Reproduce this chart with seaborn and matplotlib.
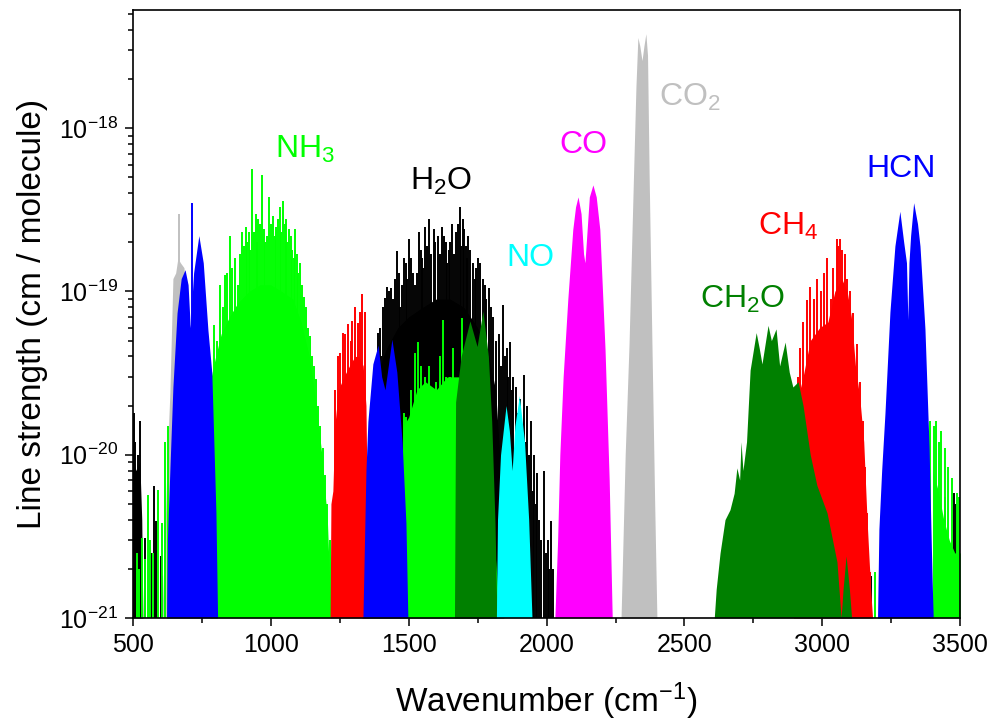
import matplotlib
matplotlib.use("Agg")
import matplotlib.pyplot as plt
import seaborn as sns
from matplotlib.ticker import FixedLocator, LogFormatterSciNotation, MultipleLocator, NullFormatter

# ── data: band envelopes (solid part) and single lines ──
# wavenumber in cm-1, line strength in cm/molecule
co2_env_wn = [605, 615, 625, 634, 645, 655, 663, 672, 685, 700, 720, 740,
              2270, 2285, 2299, 2315, 2324, 2331, 2338, 2346, 2353, 2360, 2366, 2372, 2382, 2392, 2400]
co2_env_s = [1e-21, 3e-21, 1e-20, 2.4e-20, 1.2e-19, 1.3e-19, 1.6e-19, 1.5e-19, 1.4e-19, 8e-20, 2e-20, 1e-21,
             1e-21, 1e-20, 4.8e-20, 5e-19, 1.8e-18, 3.6e-18, 3.2e-18, 2.6e-18, 3.2e-18, 3.8e-18, 2.8e-18, 5e-19, 4.8e-20, 5e-21, 1e-21]
co2_lines_wn = [667]
co2_lines_s = [3.0e-19]

h2o_env_wn = [500, 512, 525, 532, 536,
              1330, 1360, 1380, 1420, 1460, 1500, 1550, 1600, 1650, 1700, 1750, 1790, 1815, 1830, 1845]
h2o_env_s = [9e-21, 8e-21, 9e-21, 4e-21, 1e-21,
             1e-21, 1.5e-20, 3e-20, 4.5e-20, 6e-20, 7e-20, 8e-20, 9e-20, 9e-20, 8e-20, 6e-20, 4e-20, 2.5e-20, 1e-20, 1e-21]
h2o_lines_wn = [503, 508, 518, 527, 544, 565, 576, 583, 600, 606,
                1380, 1389, 1395, 1400, 1407, 1414, 1422, 1428, 1436, 1444, 1450, 1457, 1466, 1470,
                1476, 1483, 1490, 1495, 1501, 1508, 1515, 1524, 1530, 1537, 1543, 1548, 1553, 1559,
                1565, 1574, 1580, 1590, 1597, 1605, 1612, 1620, 1627, 1635, 1640, 1645, 1650, 1657,
                1663, 1670, 1677, 1686, 1690, 1697, 1700, 1706, 1710, 1715, 1722, 1733, 1740, 1745,
                1752, 1760, 1768, 1775, 1782, 1791, 1798, 1806, 1815, 1828, 1835, 1842, 1848, 1855,
                1860, 1867, 1873, 1878, 1889, 1895, 1905, 1912, 1918, 1925, 1930, 1937, 1943, 1950,
                1955, 1960, 1966, 1972, 1980, 1991, 1998, 2005, 2010, 2016, 2022,
                3177, 3420, 3445, 3478, 3483]
h2o_lines_s = [1.8e-20, 1.2e-20, 1e-20, 1.6e-20, 3.1e-21, 2.5e-21, 6.4e-21, 3.9e-21, 2.4e-21, 1.8e-21,
               3.5e-20, 5.6e-20, 6e-20, 4e-20, 8e-20, 9.1e-20, 1.07e-19, 1e-19, 1.05e-19, 9e-20, 1.2e-19, 1.77e-19, 1.3e-19, 8e-20,
               1.1e-19, 1.6e-19, 1.5e-19, 1.2e-19, 2.1e-19, 1.6e-19, 1.3e-19, 1.1e-19, 1.3e-19, 2.3e-19, 1.8e-19, 1.6e-19, 1.4e-19, 2.5e-19,
               1.9e-19, 2.8e-19, 1.7e-19, 2.4e-19, 2e-19, 2.2e-19, 1.7e-19, 2.5e-19, 2.2e-19, 2e-19, 1.5e-19, 1.8e-19, 2e-19, 2.6e-19,
               1.7e-19, 2.3e-19, 2.6e-19, 3.3e-19, 1.9e-19, 2.8e-19, 2.4e-19, 1.9e-19, 1.6e-19, 2.2e-19, 1.8e-19, 1.5e-19, 1.2e-19, 1.4e-19,
               1.6e-19, 1.5e-19, 1.2e-19, 1.1e-19, 9e-20, 1.05e-19, 8e-20, 7e-20, 5e-20, 5.5e-20, 3.5e-20, 8.3e-20, 4e-20, 4.5e-20,
               3e-20, 4.9e-20, 2.5e-20, 3e-20, 2.6e-20, 1.8e-20, 2.2e-20, 1.4e-20, 3.1e-20, 1.2e-20, 2e-20, 1e-20, 1.6e-20, 6e-21,
               1e-20, 5e-21, 7.7e-21, 4e-21, 3e-21, 8e-21, 2.5e-21, 3e-21, 2e-21, 3.9e-21, 2e-21,
               1.8e-21, 3.5e-21, 5.5e-21, 5.8e-21, 5e-21]

nh3_env_wn = [780, 784, 800, 820, 850, 880, 920, 960, 1000, 1040, 1080, 1110, 1140, 1165, 1185, 1205, 1218,
              1478, 1481, 1500, 1530, 1560, 1600, 1640, 1680, 1720, 1780, 1830,
              3398, 3401, 3420, 3440, 3460, 3480, 3500]
nh3_env_s = [1e-21, 3e-20, 4e-20, 5.5e-20, 7e-20, 8.5e-20, 1e-19, 1.1e-19, 1.1e-19, 1e-19, 9e-20, 6.5e-20, 4e-20, 2e-20, 1e-20, 4e-21, 1e-21,
             1e-21, 1.5e-20, 1.7e-20, 2.5e-20, 2.8e-20, 2.5e-20, 3e-20, 3e-20, 2.5e-20, 1.5e-20, 1e-21,
             1e-21, 8e-21, 6e-21, 4e-21, 3e-21, 2.5e-21, 2.5e-21]
nh3_lines_wn = [513, 523, 532, 545, 554, 562, 572, 591, 604, 616, 627,
                795, 805, 815, 825, 834, 842, 852, 860, 870, 881, 888, 895, 902, 910, 915, 921, 926,
                932, 938, 945, 950, 955, 961, 968, 974, 980, 986, 993, 1000, 1008, 1014, 1020, 1026,
                1033, 1038, 1044, 1050, 1055, 1060, 1066, 1072, 1078, 1083, 1088, 1095, 1100, 1106,
                1113, 1120, 1128, 1135, 1142, 1150, 1157, 1164, 1170, 1178, 1188, 1196, 1205, 1215,
                1482, 1492, 1510, 1522, 1534, 1546, 1560, 1573, 1585, 1600, 1612, 1624, 1635, 1650, 1662, 1693,
                3191, 3392, 3405, 3413, 3424, 3431, 3445, 3456, 3470, 3487, 3497]
nh3_lines_s = [2.5e-21, 2e-21, 3.1e-21, 2.3e-21, 5.7e-21, 3e-21, 2.5e-21, 6.1e-21, 3.8e-21, 1.2e-20, 1.5e-20,
               6.2e-20, 5e-20, 1.1e-19, 8e-20, 1.26e-19, 1.3e-19, 2.2e-19, 1.4e-19, 1.6e-19, 1.1e-19, 1.7e-19, 2.3e-19, 1.9e-19, 2.5e-19, 2e-19, 2.3e-19, 1.8e-19,
               5.6e-19, 2.3e-19, 3e-19, 2e-19, 2.8e-19, 2.6e-19, 5.2e-19, 2.4e-19, 2e-19, 2.2e-19, 3.8e-19, 2.6e-19, 2.9e-19, 2.2e-19, 2.5e-19, 2.8e-19,
               3.3e-19, 2.3e-19, 3.6e-19, 2.6e-19, 2.8e-19, 2e-19, 2.4e-19, 2.2e-19, 1.8e-19, 1.6e-19, 2.4e-19, 1.7e-19, 1.3e-19, 1.5e-19,
               1.1e-19, 9.3e-20, 8e-20, 6e-20, 5.3e-20, 4e-20, 3.5e-20, 2.9e-20, 2e-20, 1.5e-20, 1.1e-20, 7.5e-21, 5e-21, 3e-21,
               1.8e-20, 1.7e-20, 2.5e-20, 4.2e-20, 4.9e-20, 3.5e-20, 3e-20, 3.5e-20, 2.1e-20, 2.8e-20, 4e-20, 6.7e-20, 3e-20, 3e-20, 4.5e-20, 6.9e-20,
               1.9e-21, 1.6e-20, 1.5e-20, 1.6e-20, 1.2e-20, 1.4e-20, 1.1e-20, 8.4e-21, 7.2e-21, 5.8e-21, 5.5e-21]

ch4_env_wn = [1215, 1218, 1225, 1232, 1245, 1265, 1285, 1305, 1320, 1335, 1345, 1355,
              2895, 2905, 2930, 2956, 2990, 3020, 3045, 3070, 3090, 3105, 3120, 3136, 3150, 3162, 3175, 3182]
ch4_env_s = [1e-21, 5e-21, 6e-21, 1.5e-20, 2.5e-20, 3e-20, 3.5e-20, 4e-20, 4e-20, 3.5e-20, 2e-20, 1e-21,
             1e-21, 2e-20, 3e-20, 5e-20, 6e-20, 6.5e-20, 1e-19, 1.2e-19, 1e-19, 7e-20, 3.5e-20, 2.2e-20, 1.2e-20, 4e-21, 1.5e-21, 1e-21]
ch4_lines_wn = [1233, 1243, 1252, 1261, 1270, 1280, 1290, 1294, 1305, 1316, 1322, 1330, 1341,
                2912, 2920, 2931, 2945, 2956, 2968, 2981, 2995, 3005, 3017, 3031, 3040, 3053, 3058,
                3064, 3073, 3082, 3090, 3100, 3111, 3125, 3136, 3148, 3155, 3162, 3173]
ch4_lines_s = [2.5e-20, 4e-20, 4.2e-20, 5.6e-20, 5.5e-20, 6.3e-20, 5e-20, 6.6e-20, 8e-20, 6.4e-20, 7.5e-20, 9.6e-20, 7.5e-20,
               3e-20, 4.5e-20, 6.5e-20, 8.9e-20, 1.07e-19, 9e-20, 1.2e-19, 1e-19, 1.3e-19, 1.6e-19, 9e-20, 1.4e-19, 2.1e-19, 1.9e-19,
               2.1e-19, 1.8e-19, 1.7e-19, 1.2e-19, 1e-19, 7.4e-20, 4.8e-20, 2.8e-20, 1.6e-20, 8.4e-21, 4.4e-21, 1.9e-21]

hcn_env_wn = [622, 625, 635, 645, 660, 675, 689, 700, 708, 720, 739, 755, 772, 786, 801, 807,
              1334, 1345, 1352, 1370, 1389, 1402, 1414, 1426, 1439, 1457, 1476, 1490, 1497,
              3200, 3205, 3215, 3227, 3245, 3263, 3281, 3295, 3305, 3310, 3314, 3320, 3331, 3345, 3354, 3372, 3387, 3398, 3402]
hcn_env_s = [1e-21, 3e-21, 9e-21, 2.6e-20, 7.4e-20, 1.2e-19, 1.36e-19, 1.1e-19, 6e-20, 1.3e-19, 2.2e-19, 1.5e-19, 5.8e-20, 3.2e-20, 4.4e-21, 1e-21,
             1e-21, 8e-21, 1.6e-20, 3.6e-20, 4.7e-20, 3e-20, 2.5e-20, 3.5e-20, 5.1e-20, 3.2e-20, 1.2e-20, 3.8e-21, 1e-21,
             1e-21, 3.5e-21, 8e-21, 1.8e-20, 7.5e-20, 1.9e-19, 3.1e-19, 2e-19, 1.5e-19, 6.7e-20, 1.5e-19, 2.2e-19, 3.5e-19, 2.6e-19, 1.9e-19, 5.9e-20, 1.1e-20, 1.7e-21, 1e-21]
hcn_lines_wn = [713]
hcn_lines_s = [3.5e-19]

ch2o_env_wn = [1666, 1670, 1690, 1722, 1748, 1769, 1789, 1801, 1813, 1820,
               2608, 2615, 2629, 2647, 2665, 2680, 2690, 2700, 2705, 2712, 2725, 2738, 2760, 2771,
               2781, 2803, 2815, 2832, 2845, 2865, 2880, 2893, 2912, 2930, 2956, 2980, 3017, 3053,
               3068, 3075, 3086, 3098, 3106]
ch2o_env_s = [1e-21, 2.1e-20, 4e-20, 6.6e-20, 4.6e-20, 7.6e-20, 4e-20, 1.6e-20, 3.8e-21, 1e-21,
              1e-21, 1.5e-21, 2.5e-21, 4e-21, 4.6e-21, 5.8e-21, 8.3e-21, 7e-21, 1.2e-20, 8e-21, 1.2e-20, 3.3e-20, 5.6e-20, 4.5e-20,
              3.6e-20, 6.2e-20, 5e-20, 5.9e-20, 3.5e-20, 4.9e-20, 3.2e-20, 2.6e-20, 2.8e-20, 2e-20, 1e-20, 6.5e-21, 4.4e-21, 2.2e-21,
              1e-21, 1.5e-21, 2.4e-21, 1.5e-21, 1e-21]

no_env_wn = [1818, 1822, 1833, 1853, 1865, 1875, 1885, 1901, 1920, 1935, 1947]
no_env_s = [1e-21, 4e-21, 1e-20, 2e-20, 1.4e-20, 8e-21, 1.5e-20, 2.3e-20, 1.2e-20, 4e-21, 1e-21]

co_env_wn = [2030, 2040, 2048, 2060, 2077, 2095, 2105, 2114, 2125, 2134, 2139, 2144,
             2155, 2168, 2180, 2193, 2212, 2227, 2238]
co_env_s = [1e-21, 3e-21, 1e-20, 3e-20, 9e-20, 2.4e-19, 3.3e-19, 3.8e-19, 3e-19, 1.7e-19, 1.5e-19, 2e-19,
            3.8e-19, 4.5e-19, 3.8e-19, 2.4e-19, 4.4e-20, 7e-21, 1e-21]

# label text, position (wavenumber, strength) and colour, back-to-front order
species = ["CO$_2$", "H$_2$O", "NH$_3$", "CH$_4$", "HCN", "CH$_2$O", "NO", "CO"]
label_wn = [2520, 1617, 1124, 2876, 3286, 2709, 1940, 2132]
label_s = [1.55e-18, 4.7e-19, 7.4e-19, 2.5e-19, 5.6e-19, 8.9e-20, 1.6e-19, 7.9e-19]
colors = ["#c0c0c0", "#000000", "#00ff00", "#ff0000", "#0000ff", "#008000", "#00ffff", "#ff00ff"]

y_major = [1e-21, 1e-20, 1e-19, 1e-18]

bands = [(co2_env_wn, co2_env_s, co2_lines_wn, co2_lines_s),
         (h2o_env_wn, h2o_env_s, h2o_lines_wn, h2o_lines_s),
         (nh3_env_wn, nh3_env_s, nh3_lines_wn, nh3_lines_s),
         (ch4_env_wn, ch4_env_s, ch4_lines_wn, ch4_lines_s),
         (hcn_env_wn, hcn_env_s, hcn_lines_wn, hcn_lines_s),
         (ch2o_env_wn, ch2o_env_s, [], []),
         (no_env_wn, no_env_s, [], []),
         (co_env_wn, co_env_s, [], [])]

BASE = 1e-21
TOP = 5.3e-18

# ── appearance ──
sns.set_style("ticks")
plt.rcParams["font.family"] = ["Liberation Sans", "DejaVu Sans"]
plt.rcParams["mathtext.fontset"] = "custom"
plt.rcParams["mathtext.rm"] = "Liberation Sans"
plt.rcParams["mathtext.it"] = "Liberation Sans:italic"
plt.rcParams["mathtext.bf"] = "Liberation Sans:bold"
for key in ["text.color", "axes.labelcolor", "xtick.color", "ytick.color", "axes.edgecolor"]:
    plt.rcParams[key] = "black"

fig = plt.figure(figsize=(9.92, 7.21), dpi=100)
ax = fig.add_axes([0.134, 0.143, 0.834, 0.843])

for z, ((ewn, es, lwn, ls), col) in enumerate(zip(bands, colors)):
    ax.fill_between(ewn, BASE, es, color=col, lw=0, zorder=2 + z)
    if lwn:
        ax.vlines(lwn, BASE, ls, color=col, lw=1.4, zorder=2 + z)

for name, x, y, col in zip(species, label_wn, label_s, colors):
    ax.text(x, y, name, color=col, fontsize=23, ha="center", va="center", zorder=20)

ax.set_yscale("log")
ax.set_xlim(500, 3500)
ax.set_ylim(BASE, TOP)
ax.xaxis.set_major_locator(MultipleLocator(500))
ax.xaxis.set_minor_locator(MultipleLocator(250))
y_minor = [m * d for d in y_major for m in range(2, 10) if m * d < TOP]
ax.yaxis.set_major_locator(FixedLocator(y_major))
ax.yaxis.set_major_formatter(LogFormatterSciNotation())
ax.yaxis.set_minor_locator(FixedLocator(y_minor))
ax.yaxis.set_minor_formatter(NullFormatter())
ax.tick_params(which="both", direction="out", width=1.1, labelsize=18, top=False, right=False)
ax.tick_params(which="major", length=6, pad=5)
ax.tick_params(which="minor", length=3.5)
for sp in ax.spines.values():
    sp.set_linewidth(1.2)
    sp.set_zorder(30)

ax.set_xlabel("Wavenumber (cm$^{-1}$)", fontsize=24, labelpad=17)
ax.set_ylabel("Line strength (cm / molecule)", fontsize=24, labelpad=8)

fig.savefig("out.png", dpi=100)
